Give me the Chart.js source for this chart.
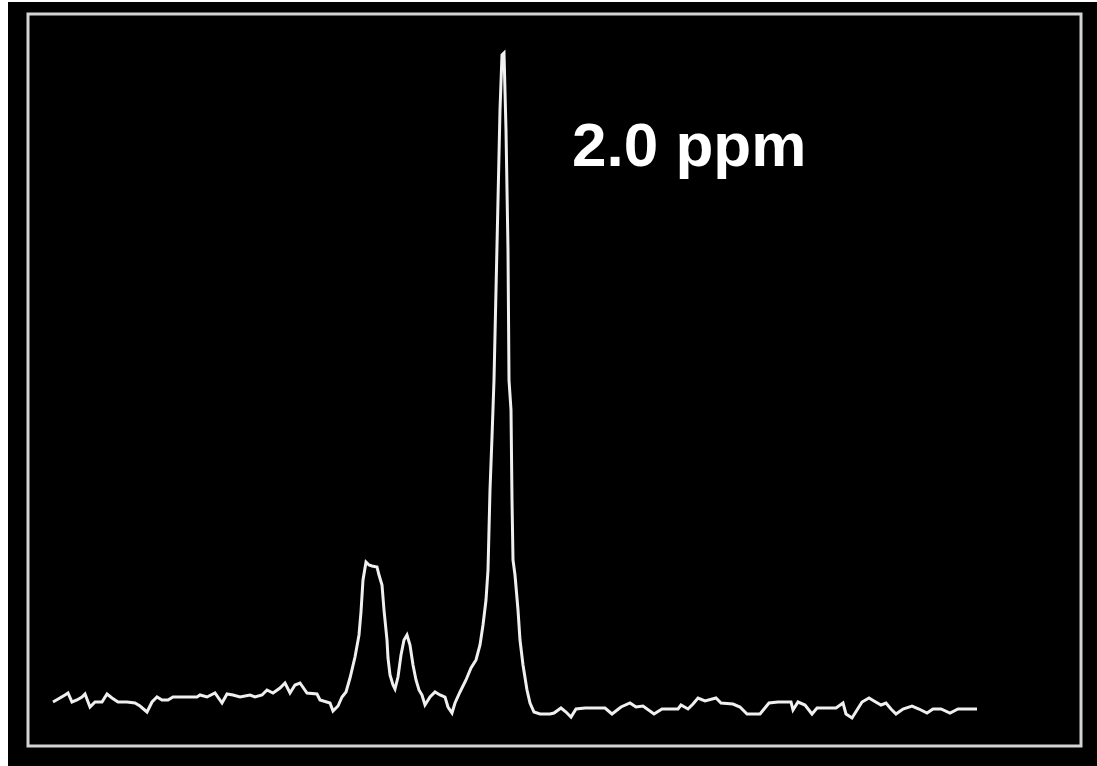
<!DOCTYPE html>
<html>
<head>
<meta charset="utf-8">
<title>Spectrum 2.0 ppm</title>
<script src="https://cdn.jsdelivr.net/npm/chart.js@4.4.1/dist/chart.umd.min.js"></script>
<style>
html, body {
margin: 0;
padding: 0;
background: #ffffff;
}
.frame {
position: absolute;
left: 8px;
top: 2px;
width: 1089px;
height: 764px;
background: #000000;
}
</style>
</head>
<body>
<div class="frame">
	<canvas id="spectrum"></canvas>
</div>
<script>
// spectrum samples: channel number and signal (arbitrary units)
const channel = [
  0, 3, 3.75, 4.75, 6, 7.25, 8, 9.25, 10.5, 12.25, 13.5, 14.75, 16.25, 18.5, 20.5, 21.75,
  23.5, 24.75, 26, 27.25, 28.75, 30, 32.5, 36, 36.75, 38.5, 40.5, 42.25, 43.5, 45, 46.75,
  49.25, 50.5, 52.25, 53.5, 55, 56.75, 58, 59.25, 60.5, 61.75, 63.5, 66, 66.75, 69.25, 70,
  71.25, 72.25, 73.25, 74.25, 75.5, 76.5, 77, 77.5, 78.25, 79, 79.75, 81, 81.5, 82.25, 82.75,
  83.5, 83.75, 84.25, 85, 85.5, 86.25, 87, 87.75, 88.5, 89.25, 90, 90.75, 91.5, 92.25, 93,
  94.25, 95.5, 96.75, 98, 98.75, 99.75, 100.5, 101.75, 103.25, 104.5, 105.75, 106.75, 107.5,
  108.25, 108.75, 109.25, 109.75, 110.25, 110.75, 111.25, 111.75, 112.25, 112.75, 113.25,
  113.75, 114, 114.5, 114.75, 115, 115.5, 116.25, 116.75, 117.5, 118.5, 119.25, 120.25,
  121.75, 124.25, 125.25, 127, 128.25, 129.5, 130.75, 133, 138, 139.75, 142, 144.25, 145.75,
  147.5, 150.25, 152.25, 154.5, 156.25, 157, 158.75, 160, 161.25, 163, 165.75, 167, 170,
  171.75, 173.5, 176.75, 179, 181.25, 184.5, 185, 186.25, 188, 189.75, 191, 195.75, 197.5,
  198.25, 199.75, 201, 202.25, 204, 205.25, 207, 208.25, 209.5, 210.75, 212.5, 214.75, 216.5,
  218.5, 220, 222, 224.25, 226.25, 231
];
const signal = [
  0.4, 1.1, 1.3, 0.4, 0.6, 0.9, 1.2, -0.1, 0.4, 0.4, 1.2, 0.8, 0.4, 0.4, 0.3, 0,
  -0.6, 0.4, 0.9, 0.6, 0.6, 0.9, 0.9, 0.9, 1.1, 0.9, 1.3, 0.3, 1.2, 1.1, 0.9,
  1.1, 0.9, 1.1, 1.6, 1.3, 1.8, 2.3, 1.3, 2.1, 2.3, 1.3, 1.2, 0.6, 0.3, -0.5,
  0, 0.9, 1.4, 2.8, 4.9, 7.1, 9.4, 12.6, 14.4, 14.1, 14.0, 13.9, 13.1, 12.1, 9.6,
  6.6, 4.8, 3.1, 2.1, 1.7, 2.9, 5.1, 6.6, 7.1, 6.1, 4.1, 2.6, 1.6, 1.1, 0.1,
  0.9, 1.4, 1.1, 0.9, -0.1, -0.7, 0.3, 1.4, 2.6, 3.8, 4.6, 6.1, 8.1,
  10.6, 13.6, 21.6, 26.9, 32.6, 41.6, 50.6, 59.6, 65.1, 65.3, 57.6,
  45.6, 32.6, 29.6, 20.6, 14.6, 13.1, 9.6, 6.6, 4.1, 1.6, 0.3, -0.6,
  -0.8, -0.8, -0.7, -0.2, -0.6, -1.1, -0.3, -0.2, -0.2, -0.8, -0.1, 0.3, -0.1,
  0, -0.8, -0.3, -0.3, -0.3, 0.1, -0.3, 0.2, 0.8, 0.5, 0.8, 0.3, 0.2,
  -0.1, -0.8, -0.8, 0.3, 0.4, 0.4, -0.4, 0.4, 0.1, -0.8, -0.2, -0.2, 0.3,
  -0.8, -1.2, -0.4, 0.4, 0.8, 0.5, 0.1, 0.3, -0.3, -0.8, -0.3, 0, -0.3,
  -0.7, -0.3, -0.3, -0.7, -0.3, -0.3
];
const peakLabel = '2.0 ppm';

const points = channel.map((c, i) => ({ x: c, y: signal[i] }));

// white frame around the plot area plus the peak label
const framePlugin = {
  id: 'frame',
  afterDatasetsDraw(chart) {
    const { ctx, chartArea } = chart;
    ctx.save();
    ctx.strokeStyle = '#d4d4d4';
    ctx.lineWidth = 3;
    ctx.strokeRect(chartArea.left, chartArea.top,
      chartArea.right - chartArea.left, chartArea.bottom - chartArea.top);
    ctx.fillStyle = '#ffffff';
    ctx.font = 'bold 62px "Liberation Sans", Arial, sans-serif';
    ctx.textBaseline = 'alphabetic';
    ctx.fillText(peakLabel, chartArea.left + 544, chartArea.top + 152);
    ctx.restore();
  }
};

new Chart(document.getElementById('spectrum'), {
  type: 'line',
  data: {
    datasets: [{
      data: points,
      borderColor: '#f0f0f0',
      borderWidth: 3,
      pointRadius: 0,
      tension: 0,
      fill: false
    }]
  },
  options: {
    responsive: true,
    maintainAspectRatio: false,
    animation: false,
    layout: { padding: { left: 20, top: 12, right: 16, bottom: 20 } },
    plugins: { legend: { display: false }, tooltip: { enabled: false } },
    scales: {
      x: { type: 'linear', min: -6.25, max: 257, display: false },
      y: { min: -4.0, max: 69.2, display: false }
    }
  },
  plugins: [framePlugin]
});
</script>
</body>
</html>
